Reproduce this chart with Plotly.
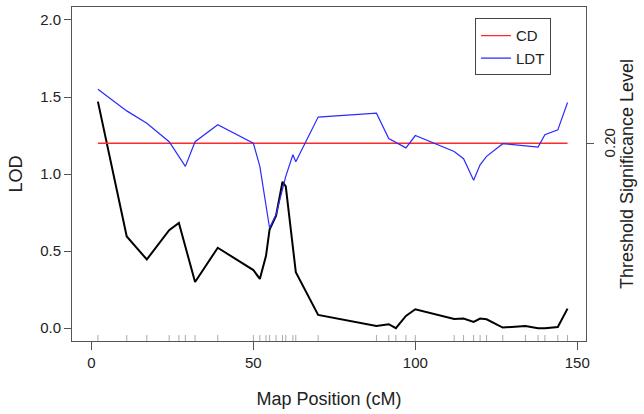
import plotly.graph_objects as go

# marker positions (rug)
markers = [2.0, 10.9, 17.1, 24.0, 27.0, 29.0, 32.0, 39.0, 50.0, 52.0, 53.9, 55.0,
           57.0, 59.0, 60.0, 62.2, 63.1, 70.0, 88.0, 91.8, 94.0, 97.1, 100.0,
           112.0, 114.9, 118.0, 120.0, 122.0, 127.0, 134.0, 137.9, 140.0, 144.0, 147.0]

# CD LOD profile
cd_x = [2.0, 10.9, 17.1, 24.0, 27.0, 32.0, 39.0, 50.0, 52.0, 53.9, 55.0, 57.0,
        59.0, 60.0, 63.1, 70.0, 88.0, 91.8, 94.0, 97.1, 100.0, 112.0, 114.9,
        118.0, 120.0, 122.0, 127.0, 134.0, 137.9, 140.0, 144.0, 147.0]
cd_y = [1.47, 0.595, 0.446, 0.636, 0.683, 0.30, 0.522, 0.377, 0.32, 0.47, 0.64, 0.73,
        0.95, 0.92, 0.364, 0.086, 0.015, 0.026, 0.0, 0.08, 0.123, 0.06, 0.063,
        0.041, 0.063, 0.058, 0.004, 0.015, 0.0, 0.0, 0.008, 0.127]

# LDT LOD profile
ldt_x = [2.0, 10.9, 17.1, 24.0, 29.0, 32.0, 39.0, 50.0, 52.0, 55.0, 57.0, 60.0,
         62.2, 63.1, 70.0, 88.0, 91.8, 97.1, 100.0, 112.0, 114.9, 118.0, 120.0,
         122.0, 127.0, 137.9, 140.0, 144.0, 147.0]
ldt_y = [1.55, 1.41, 1.33, 1.21, 1.05, 1.21, 1.32, 1.20, 1.05, 0.65, 0.737, 0.985,
         1.125, 1.08, 1.37, 1.395, 1.23, 1.17, 1.25, 1.147, 1.10, 0.96, 1.06,
         1.115, 1.197, 1.175, 1.255, 1.287, 1.464]

# threshold
thr_x = [2.0, 147.0]
thr_lod = 1.2
thr_label = "0.20"

x_ticks = [0, 50, 100, 150]
y_ticks = [0.0, 0.5, 1.0, 1.5, 2.0]

FONT = "Liberation Sans, Arial, Helvetica, sans-serif"
AXC = "#555555"

fig = go.Figure()
fig.add_trace(go.Scatter(x=cd_x, y=cd_y, mode="lines", line=dict(color="black", width=2),
                         showlegend=False, hoverinfo="skip"))
fig.add_trace(go.Scatter(x=thr_x, y=[thr_lod] * len(thr_x), mode="lines",
                         line=dict(color="#ff2a2a", width=1.4), name="CD"))
fig.add_trace(go.Scatter(x=ldt_x, y=ldt_y, mode="lines",
                         line=dict(color="#2a2aff", width=1.2), name="LDT"))
# dummy trace to activate y2
fig.add_trace(go.Scatter(x=[thr_x[0]], y=[thr_lod], yaxis="y2", mode="markers",
                         marker=dict(opacity=0), showlegend=False, hoverinfo="skip"))

for m in markers:
    fig.add_shape(type="line", x0=m, x1=m, xref="x", yref="y domain", y0=0, y1=0.018,
                  line=dict(color="#aaaaaa", width=1))

# right-axis threshold label (rotated, as in the original)
fig.add_annotation(text=thr_label, xref="paper", x=1.045, yref="y", y=thr_lod,
                   textangle=-90, showarrow=False, font=dict(size=15, color="#222222"),
                   xanchor="center", yanchor="middle")

yr = [-0.083, 2.084]
fig.update_layout(
    width=644, height=414,
    margin=dict(l=72, r=58, t=7, b=73, autoexpand=False),
    paper_bgcolor="white", plot_bgcolor="white",
    font=dict(family=FONT, size=15, color="#222222"),
    showlegend=True,
    legend=dict(x=0.784, y=0.966, xanchor="left", yanchor="top",
                bordercolor="#444444", borderwidth=1, bgcolor="white",
                font=dict(size=15), tracegroupgap=0, itemwidth=30),
    xaxis=dict(range=[-6.0, 152.7], tickvals=x_ticks, ticks="outside", ticklen=8,
               tickcolor=AXC, showgrid=False, zeroline=False, showline=True,
               linecolor=AXC, linewidth=1, mirror=True, automargin=False,
               title=dict(text="Map Position (cM)", standoff=22)),
    yaxis=dict(range=yr, tickvals=y_ticks, tickformat=".1f", ticks="outside", ticklen=7,
               tickcolor=AXC, showgrid=False, zeroline=False, showline=True,
               linecolor=AXC, linewidth=1, mirror=True, automargin=False,
               title=dict(text="LOD", standoff=12)),
    yaxis2=dict(range=yr, overlaying="y", side="right", tickvals=[thr_lod],
                showticklabels=False, ticks="outside", ticklen=7,
                tickcolor=AXC, showgrid=False, zeroline=False, showline=False,
                automargin=False,
                title=dict(text="Threshold Significance Level", standoff=27)),
)

fig.write_html("out.html", config={"displayModeBar": False},
               post_script="document.body.style.margin='0';")
